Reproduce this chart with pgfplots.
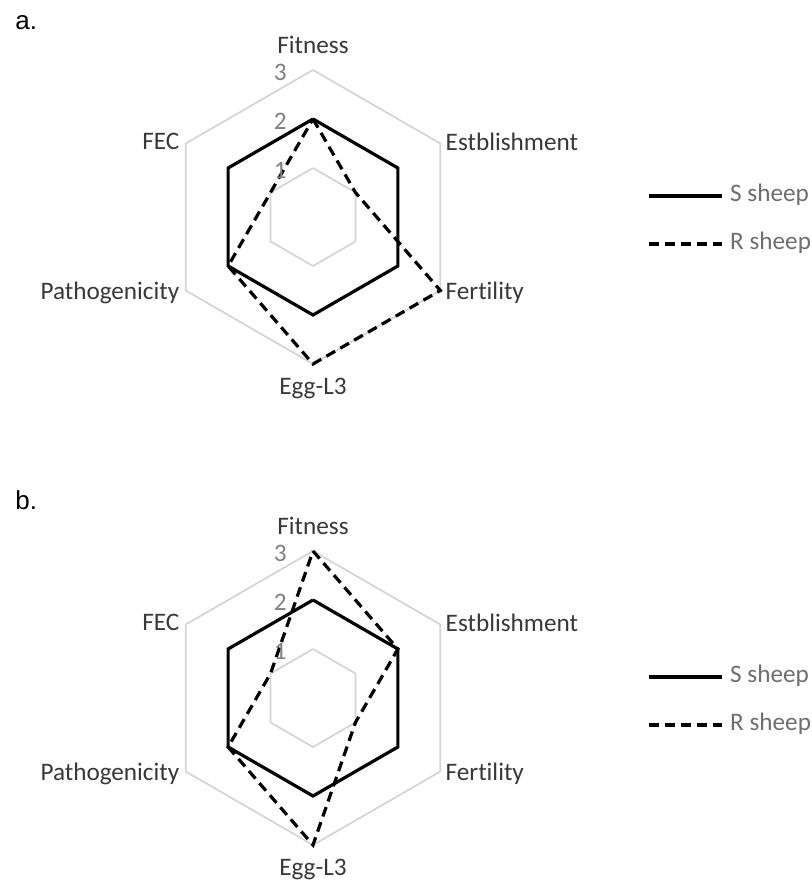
\documentclass[border=0pt]{standalone}
\usepackage{pgfplots}
\pgfplotsset{compat=1.18}
\usepgfplotslibrary{polar}
\usepackage{pgfplotstable}
\usepackage{fontspec}
\setmainfont{Carlito}[Ligatures={NoCommon}]
\newfontfamily\arialfont{Liberation Sans}

\definecolor{gridgray}{HTML}{D4D4D4}
\definecolor{labgray}{HTML}{383838}
\definecolor{leggray}{HTML}{6E6E6E}
\definecolor{tickgray}{HTML}{808080}
\newcommand\lf{\fontsize{12.6}{15}\selectfont}

% angle of each spoke: Fitness 90, Estblishment 30, Fertility -30,
% Egg-L3 -90, Pathogenicity -150, FEC 150 (first row repeated to close)
\pgfplotstableread{
angle S R
90   2 2
30   2 1
-30  2 3
-90  2 3
-150 2 2
150  2 1
90   2 2
}\radara
\pgfplotstableread{
angle S R
90   2 3
30   2 2
-30  2 1
-90  2 3
-150 2 2
150  2 1
90   2 3
}\radarb

\pgfplotsset{
  radar/.style={
    scale only axis, width=147pt, height=147pt,
    xmin=0, xmax=360, ymin=0, ymax=3,
    hide axis, clip=false,
    legend style={at={(1.636,0.49)}, anchor=west, draw=none, fill=none,
      inner sep=0pt, outer sep=0pt, row sep=14pt,
      nodes={inner sep=0pt, text=leggray, font=\lf, text height=8pt, text depth=2pt}},
    legend cell align=left,
    legend image code/.code={\draw[##1] (0pt,0pt) -- (36.5pt,0pt); \path (40pt,0pt);},
  },
  sline/.style={black, line width=1.6pt, line join=miter},
  rline/.style={black, line width=1.6pt, dash pattern=on 5pt off 3pt, line join=miter},
  hex/.style={gridgray, line width=0.85pt, forget plot},
}
\tikzset{tlab/.style={anchor=east, inner sep=0pt, text=tickgray, font=\lf, xshift=-13pt, yshift=-1pt}}

\newcommand\radargrid{%
  \addplot[hex] coordinates {(90,1)(30,1)(-30,1)(-90,1)(-150,1)(150,1)(90,1)};
  \addplot[hex] coordinates {(90,2)(30,2)(-30,2)(-90,2)(-150,2)(150,2)(90,2)};
  \addplot[hex] coordinates {(90,3)(30,3)(-30,3)(-90,3)(-150,3)(150,3)(90,3)};
}
\newcommand\radarlabels{%
  \node[anchor=base, inner sep=0pt, text=labgray, font=\lf, yshift=8pt] at (axis cs:90,3) {Fitness};
  \node[anchor=west, inner sep=0pt, text=labgray, font=\lf, xshift=2.5pt, yshift=1pt] at (axis cs:30,3) {Estblishment};
  \node[anchor=mid west, inner sep=0pt, text=labgray, font=\lf, xshift=2.5pt, yshift=-2pt] at (axis cs:-30,3) {Fertility};
  \node[anchor=north, inner sep=0pt, text=labgray, font=\lf, yshift=-7pt] at (axis cs:-90,3) {Egg-L3};
  \node[anchor=mid east, inner sep=0pt, text=labgray, font=\lf, xshift=-3pt, yshift=-2pt] at (axis cs:-150,3) {Pathogenicity};
  \node[anchor=east, inner sep=0pt, text=labgray, font=\lf, xshift=-3pt, yshift=1pt] at (axis cs:150,3) {FEC};
  \node[tlab] at (axis cs:90,1) {1};
  \node[tlab] at (axis cs:90,2) {2};
  \node[tlab] at (axis cs:90,3) {3};
}

\begin{document}
\begin{tikzpicture}
\useasboundingbox (0,0) rectangle (405.5pt,440.5pt);

\node[anchor=base west, inner sep=0pt] at (7.5pt,425.5pt) {\arialfont\fontsize{13}{15}\selectfont a.};
\begin{polaraxis}[radar, at={(156.5pt,332pt)}, anchor=center]
  \radargrid
  \addplot[sline] table[x=angle, y=S] {\radara};
  \addlegendentry{S sheep}
  \addplot[rline] table[x=angle, y=R] {\radara};
  \addlegendentry{R sheep}
  \radarlabels
\end{polaraxis}

\node[anchor=base west, inner sep=0pt] at (7.5pt,185.5pt) {\arialfont\fontsize{13}{15}\selectfont b.};
\begin{polaraxis}[radar, at={(156.5pt,91.5pt)}, anchor=center]
  \radargrid
  \addplot[sline] table[x=angle, y=S] {\radarb};
  \addlegendentry{S sheep}
  \addplot[rline] table[x=angle, y=R] {\radarb};
  \addlegendentry{R sheep}
  \radarlabels
\end{polaraxis}
\end{tikzpicture}
\end{document}
